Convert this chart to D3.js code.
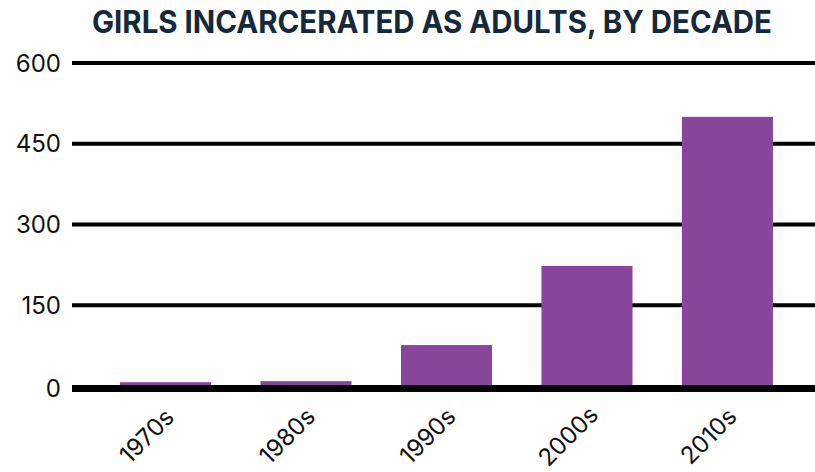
<!DOCTYPE html>
<html>
<head>
<meta charset="utf-8">
<script src="https://cdn.jsdelivr.net/npm/d3@7"></script>
<style>
  html, body { margin: 0; padding: 0; background: #fff; }
  svg { display: block; }
</style>
</head>
<body>
<svg id="chart" width="815" height="472"></svg>
<script>
// Data
const titleText = "GIRLS INCARCERATED AS ADULTS, BY DECADE";
const decades = ["1970s", "1980s", "1990s", "2000s", "2010s"];
const girlsCount = [7, 9, 76, 223, 500];
const yTicks = [0, 150, 300, 450, 600];

const W = 815, H = 472;
const svg = d3.select("#chart");
const font = "Inter, 'Open Sans', sans-serif";

const x = d3.scaleBand()
  .domain(decades)
  .range([72, 821])
  .paddingInner(0.352)
  .paddingOuter(0.342);

const y = d3.scaleLinear()
  .domain([0, 600])
  .range([386, 63]);

// Title
svg.append("text")
  .attr("x", 432)
  .attr("y", 33)
  .attr("text-anchor", "middle")
  .attr("font-family", font)
  .attr("font-weight", 700)
  .attr("font-size", 31)
  .attr("fill", "#15293b")
  .attr("textLength", 680)
  .attr("lengthAdjust", "spacingAndGlyphs")
  .text(titleText);

// Horizontal gridlines (zero is drawn later as a heavier baseline)
const gy = svg.append("g");
gy.selectAll("line.grid")
  .data(yTicks.filter(d => d !== 0))
  .join("line")
  .attr("class", "grid")
  .attr("x1", 72).attr("x2", W)
  .attr("y1", d => y(d)).attr("y2", d => y(d))
  .attr("stroke", "#000")
  .attr("stroke-width", 4);

// Y tick labels
gy.selectAll("text.ylab")
  .data(yTicks)
  .join("text")
  .attr("class", "ylab")
  .attr("x", 61)
  .attr("y", d => d === 0 ? y(d) + 2.5 : y(d))
  .attr("dy", "0.36em")
  .attr("text-anchor", "end")
  .attr("font-family", font)
  .attr("font-size", 24)
  .attr("fill", "#111")
  .text(d => d);

// Bars
svg.append("g")
  .selectAll("rect")
  .data(decades.map((d, i) => ({ decade: d, value: girlsCount[i] })))
  .join("rect")
  .attr("x", d => x(d.decade))
  .attr("width", x.bandwidth())
  .attr("y", d => y(d.value))
  .attr("height", d => y(0) - y(d.value))
  .attr("fill", "#87469a");

// Zero baseline
svg.append("line")
  .attr("x1", 72).attr("x2", W)
  .attr("y1", y(0) + 2.5).attr("y2", y(0) + 2.5)
  .attr("stroke", "#000")
  .attr("stroke-width", 7);

// X axis labels, rotated
svg.append("g")
  .selectAll("text")
  .data(decades)
  .join("text")
  .attr("transform", d => `translate(${x(d) + x.bandwidth() / 2 - 19},436) rotate(-45)`)
  .attr("text-anchor", "middle")
  .attr("dy", "0.35em")
  .attr("font-family", font)
  .attr("font-size", 24)
  .attr("fill", "#111")
  .text(d => d);
</script>
</body>
</html>
